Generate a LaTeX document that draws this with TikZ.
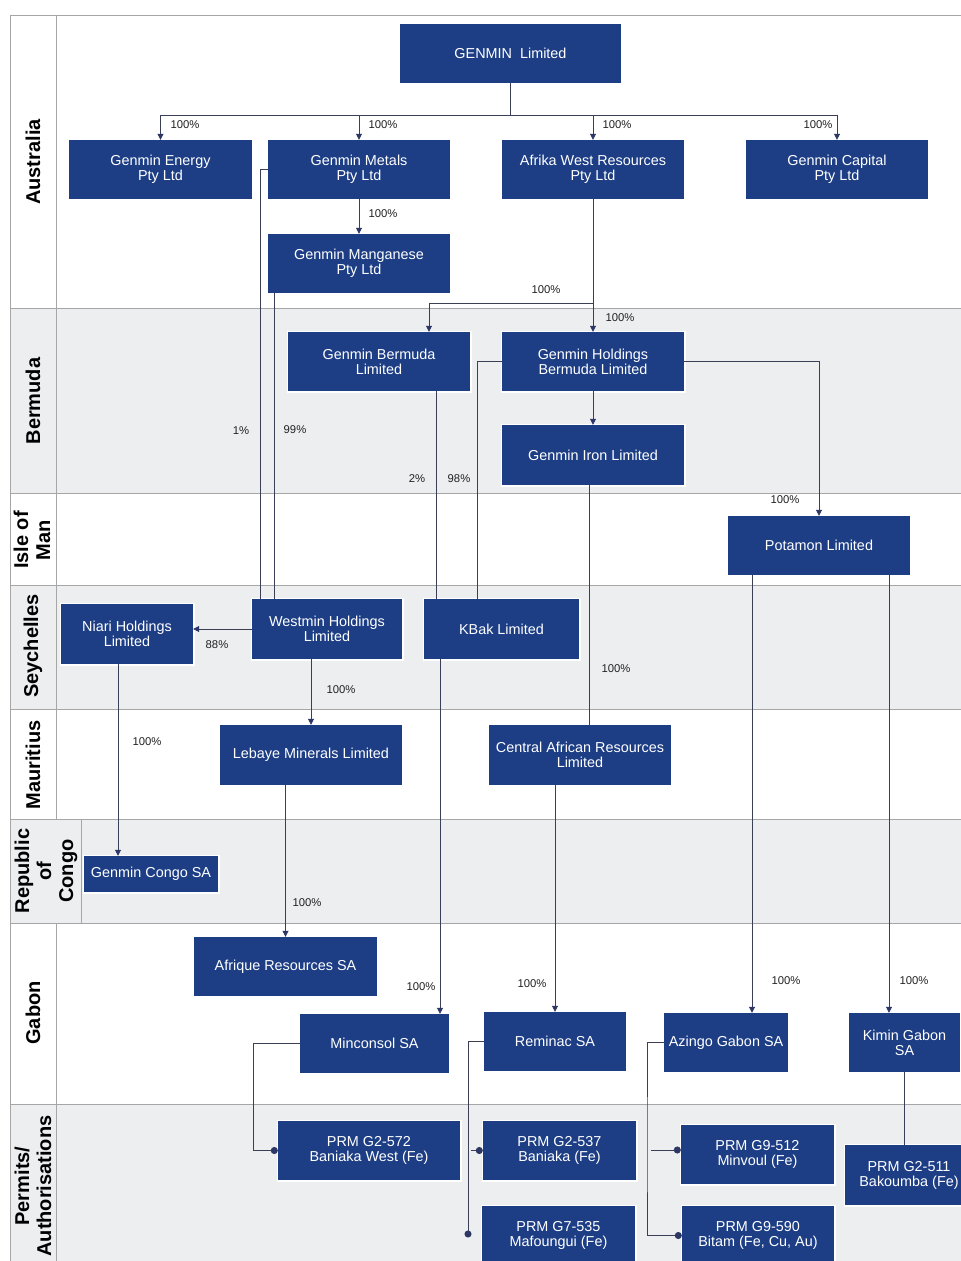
\documentclass[tikz,border=0pt]{standalone}
\usepackage{fontspec}
\setmainfont{Liberation Sans}
\usetikzlibrary{arrows.meta}
\definecolor{boxblue}{HTML}{1D3E85}
\definecolor{connc}{HTML}{3B3F55}
\definecolor{tipc}{HTML}{2D3766}
\definecolor{lanegrey}{HTML}{EDEEF0}
\definecolor{laneline}{HTML}{A6A6A6}
\definecolor{pctc}{HTML}{222222}
\newcommand\mybox[6]{\node[box, minimum width=#4, minimum height=#5] (#1) at (#2,#3) {#6};}
\begin{document}
\begin{tikzpicture}[x=1pt,y=-1pt,
  box/.style={fill=boxblue, text=white, inner sep=0pt, align=center,
    font=\fontsize{14.4}{15}\selectfont, preaction={draw=white,line width=3pt}},
  conn/.style={draw=connc, line width=0.8pt},
  arr/.style={conn, -{Triangle[length=6pt,width=6pt,color=tipc]}},
  dotend/.style={conn, -{Circle[length=7pt,color=tipc]}},
  pct/.style={font=\fontsize{11.3}{12}\selectfont, text=pctc, inner sep=0pt},
  lanelab/.style={font=\fontsize{20}{22}\selectfont\bfseries, rotate=90, align=center, inner sep=0pt},
  laneln/.style={draw=laneline, line width=0.8pt}
]
\useasboundingbox (0,0) rectangle (961,1261);
\clip (0,0) rectangle (961,1261);
% lanes
\fill[white] (0,0) rectangle (961,1261);
\fill[lanegrey] (10,308) rectangle (961,493);
\fill[lanegrey] (10,585) rectangle (961,709);
\fill[lanegrey] (10,819) rectangle (961,923);
\fill[lanegrey] (10,1104) rectangle (961,1261);
\draw[laneln] (10,1261) -- (10,15) -- (961,15);
\foreach \yy in {308,493,585,709,819,923,1104} {\draw[laneln] (10,\yy) -- (961,\yy);}
\draw[laneln] (56,15) -- (56,819);
\draw[laneln] (81,819) -- (81,923);
\draw[laneln] (56,923) -- (56,1261);
% lane labels
\node[lanelab] (lAus) at (33,162) {Australia};
\node[lanelab] (lBer) at (33,401) {Bermuda};
\node[lanelab] (lIom) at (32,540) {Isle of\\Man};
\node[lanelab] (lSey) at (33,646) {Seychelles};
\node[lanelab] (lMau) at (33,765) {Mauritius};
\node[lanelab] (lCon) at (46,871) {Republic\\of\\Congo};
\node[lanelab] (lGab) at (33,1013) {Gabon};
\node[lanelab] (lPer) at (33,1186) {Permits/\\Authorisations};
% boxes
\mybox{gl}{510.5}{53.5}{221}{59}{GENMIN\ \ Limited}
\mybox{energy}{160.5}{169.5}{183}{59}{Genmin Energy\\Pty Ltd}
\mybox{metals}{359}{169.5}{182}{59}{Genmin Metals\\Pty Ltd}
\mybox{afrika}{593}{169.5}{182}{59}{Afrika West Resources\\Pty Ltd}
\mybox{capital}{837}{169.5}{182}{59}{Genmin Capital\\Pty Ltd}
\mybox{manganese}{359}{263.5}{182}{59}{Genmin Manganese\\Pty Ltd}
\mybox{gbermuda}{379}{361.5}{182}{59}{Genmin Bermuda\\Limited}
\mybox{holdings}{593}{361.5}{182}{59}{Genmin Holdings\\Bermuda Limited}
\mybox{iron}{593}{455}{182}{60}{Genmin Iron Limited}
\mybox{potamon}{819}{545.5}{182}{59}{Potamon Limited}
\mybox{niari}{127}{634}{132}{60}{Niari Holdings\\Limited}
\mybox{westmin}{327}{629}{150}{60}{Westmin Holdings\\Limited}
\mybox{kbak}{501.5}{629}{155}{60}{KBak Limited}
\mybox{lebaye}{311}{755}{182}{60}{Lebaye Minerals Limited}
\mybox{car}{580}{755}{182}{60}{Central African Resources\\Limited}
\mybox{congo}{151}{874}{134}{36}{Genmin Congo SA}
\mybox{afrique}{285.5}{966.5}{183}{59}{Afrique Resources SA}
\mybox{minconsol}{374.5}{1043.5}{149}{59}{Minconsol SA}
\mybox{reminac}{555}{1041.5}{142}{59}{Reminac SA}
\mybox{azingo}{726}{1042.5}{124}{59}{Azingo Gabon SA}
\mybox{kimin}{904.5}{1042.5}{111}{59}{Kimin Gabon\\SA}
\mybox{prmA}{369}{1150.5}{182}{59}{PRM G2-572\\Baniaka West (Fe)}
\mybox{prmB}{559.5}{1150.5}{153}{59}{PRM G2-537\\Baniaka (Fe)}
\mybox{prmC}{558.5}{1235.5}{153}{59}{PRM G7-535\\Mafoungui (Fe)}
\mybox{prmD}{757.5}{1154.5}{153}{59}{PRM G9-512\\Minvoul (Fe)}
\mybox{prmE}{758}{1235.5}{152}{59}{PRM G9-590\\Bitam (Fe, Cu, Au)}
\mybox{prmF}{909}{1175}{128}{60}{PRM G2-511\\Bakoumba (Fe)}
% helper coordinates
\coordinate (bus) at (0,115);
\coordinate (brA) at (429,303);
\coordinate (x98) at (477,0);
\coordinate (x2) at (436,0);
\coordinate (x1) at (260,0);
\coordinate (x99) at (274,0);
\coordinate (xcg) at (118,0);
\coordinate (xmc) at (440,0);
\coordinate (xir) at (589,0);
\coordinate (xaz) at (752,0);
\coordinate (xkm) at (889,0);
\coordinate (xmn) at (253,0);
\coordinate (xrmb) at (471,0);
\coordinate (xag) at (647,0);
\coordinate (xagb) at (651,0);
\coordinate (ybr) at (0,1150);
\coordinate (mafdot) at (468,1237.5);
% connectors Australia
\draw[conn] (gl.south) -- (gl.south |- bus);
\draw[conn] (energy.north |- bus) -- (capital.north |- bus);
\draw[arr] (energy.north |- bus) -- (energy.north);
\draw[arr] (metals.north |- bus) -- (metals.north);
\draw[arr] (afrika.north |- bus) -- (afrika.north);
\draw[arr] (capital.north |- bus) -- (capital.north);
\draw[arr] (metals) -- (manganese);
\draw[arr] (afrika) -- (holdings);
\draw[arr] (afrika.south |- brA) -- (brA) -- (brA |- gbermuda.north);
% Bermuda
\draw[arr] (holdings) -- (iron);
\draw[arr] (holdings.east) -| (potamon.north);
\draw[conn] (holdings.west) -| (x98 |- kbak.north);
\draw[conn] (x2 |- gbermuda.south) -- (x2 |- kbak.north);
\draw[conn] (metals.west) -| (x1 |- westmin.north);
\draw[conn] (x99 |- manganese.south) -- (x99 |- westmin.north);
% Seychelles and below
\draw[arr] (westmin.west) -- (niari.east |- westmin.west);
\draw[arr] (lebaye.north |- westmin.south) -- (lebaye.north);
\draw[arr] (xcg |- niari.south) -- (xcg |- congo.north);
\draw[arr] (afrique.north |- lebaye.south) -- (afrique.north);
\draw[arr] (xmc |- kbak.south) -- (xmc |- minconsol.north);
\draw[conn] (xir |- iron.south) -- (xir |- car.north);
\draw[arr] (reminac.north |- car.south) -- (reminac.north);
\draw[arr] (xaz |- potamon.south) -- (xaz |- azingo.north);
\draw[arr] (xkm |- potamon.south) -- (xkm |- kimin.north);
% permits
\draw[dotend] (minconsol.west) -| (xmn |- prmA.west) -- (prmA.west);
\draw[dotend] (reminac.west) -| (mafdot);
\draw[dotend] (xrmb |- prmB.west) -- (prmB.west);
\draw[dotend] (azingo.west) -| (xag |- ybr) |- (prmE.west);
\draw[dotend] (xagb |- ybr) -- (prmD.west |- ybr);
\draw[conn] (kimin.south) -- (kimin.south |- prmF.north);
% percentages
\node[pct] (p1) at (185,125) {100\%};
\node[pct] (p2) at (383,125) {100\%};
\node[pct] (p3) at (617,125) {100\%};
\node[pct] (p4) at (818,125) {100\%};
\node[pct] (p5) at (383,214) {100\%};
\node[pct] (p6) at (546,290) {100\%};
\node[pct] (p7) at (620,318) {100\%};
\node[pct] (p8) at (785,500) {100\%};
\node[pct] (p9) at (241,431) {1\%};
\node[pct] (p10) at (295,430) {99\%};
\node[pct] (p11) at (417,479) {2\%};
\node[pct] (p12) at (459,479) {98\%};
\node[pct] (p13) at (217,645) {88\%};
\node[pct] (p14) at (341,690) {100\%};
\node[pct] (p15) at (616,669) {100\%};
\node[pct] (p16) at (147,742) {100\%};
\node[pct] (p17) at (307,903) {100\%};
\node[pct] (p18) at (421,987) {100\%};
\node[pct] (p19) at (532,984) {100\%};
\node[pct] (p20) at (786,981) {100\%};
\node[pct] (p21) at (914,981) {100\%};
\end{tikzpicture}
\end{document}
